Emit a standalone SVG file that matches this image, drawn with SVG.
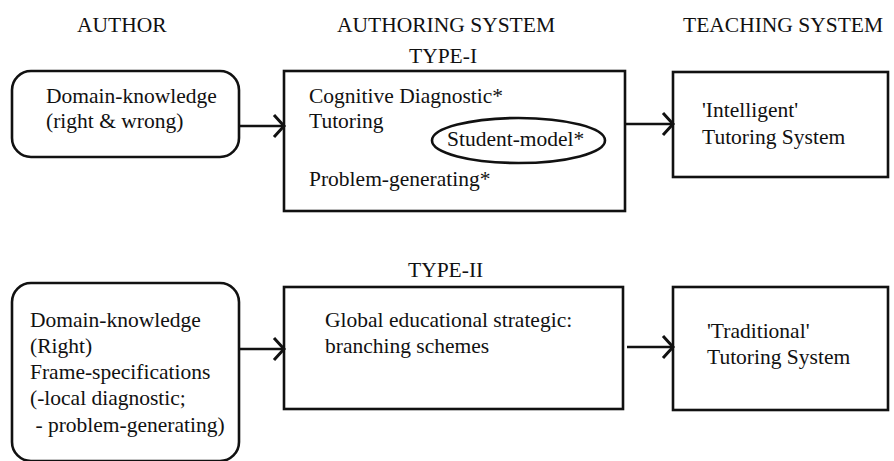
<svg xmlns="http://www.w3.org/2000/svg" width="894" height="461" viewBox="0 0 894 461">
<style>
text { font-family: 'Liberation Serif', Tinos, 'Times New Roman', Times, 'DejaVu Serif', serif; font-size: 21.5px; fill: #111; }
.box { fill: #fff; stroke: #111; stroke-width: 2.6; }
.conn line { stroke: #111; stroke-width: 2.6; }
.ell { fill: none; stroke: #111; stroke-width: 2.6; }
</style>
<defs>
<marker id="arr" markerUnits="userSpaceOnUse" markerWidth="16" markerHeight="28" refX="13" refY="14" orient="auto">
<path d="M3,3 L13,14 L3,25" fill="none" stroke="#111" stroke-width="3"/>
</marker>
</defs>
<rect width="894" height="461" fill="#fff"/>
<g id="headers">
<text x="77" y="32">AUTHOR</text>
<text x="337" y="32">AUTHORING SYSTEM</text>
<text x="683" y="32">TEACHING SYSTEM</text>
<text x="409" y="63">TYPE-I</text>
<text x="408" y="277">TYPE-II</text>
</g>
<g id="author1">
<rect class="box" x="12" y="71" width="227" height="86" rx="19"/>
<text x="46" y="103">Domain-knowledge</text>
<text x="46" y="128">(right &amp; wrong)</text>
</g>
<g id="authoring1">
<rect class="box" x="284" y="71" width="341" height="140"/>
<text x="309" y="103">Cognitive Diagnostic*</text>
<text x="309" y="128">Tutoring</text>
<text x="309" y="186">Problem-generating*</text>
<g id="studentmodel">
<ellipse class="ell" cx="518.5" cy="140.5" rx="86.5" ry="22.5"/>
<text x="447" y="146">Student-model*</text>
</g>
</g>
<g id="teaching1">
<rect class="box" x="673" y="72" width="215" height="105"/>
<text x="702" y="117">'Intelligent'</text>
<text x="702" y="144">Tutoring System</text>
</g>
<g id="author2">
<rect class="box" x="12" y="283" width="227" height="178" rx="19"/>
<text x="30" y="327">Domain-knowledge</text>
<text x="30" y="353">(Right)</text>
<text x="30" y="379">Frame-specifications</text>
<text x="30" y="405">(-local diagnostic;</text>
<text x="30" y="432" xml:space="preserve"> - problem-generating)</text>
</g>
<g id="authoring2">
<rect class="box" x="284" y="287" width="339" height="122"/>
<text x="325" y="327">Global educational strategic:</text>
<text x="325" y="353">branching schemes</text>
</g>
<g id="teaching2">
<rect class="box" x="673" y="287" width="215" height="123"/>
<text x="707" y="338">'Traditional'</text>
<text x="707" y="364">Tutoring System</text>
</g>
<g id="connectors" class="conn">
<line x1="239" y1="126" x2="284" y2="126" marker-end="url(#arr)"/>
<line x1="625" y1="124" x2="673" y2="124" marker-end="url(#arr)"/>
<line x1="239" y1="349" x2="284" y2="349" marker-end="url(#arr)"/>
<line x1="627" y1="347" x2="673" y2="347" marker-end="url(#arr)"/>
</g>
</svg>
